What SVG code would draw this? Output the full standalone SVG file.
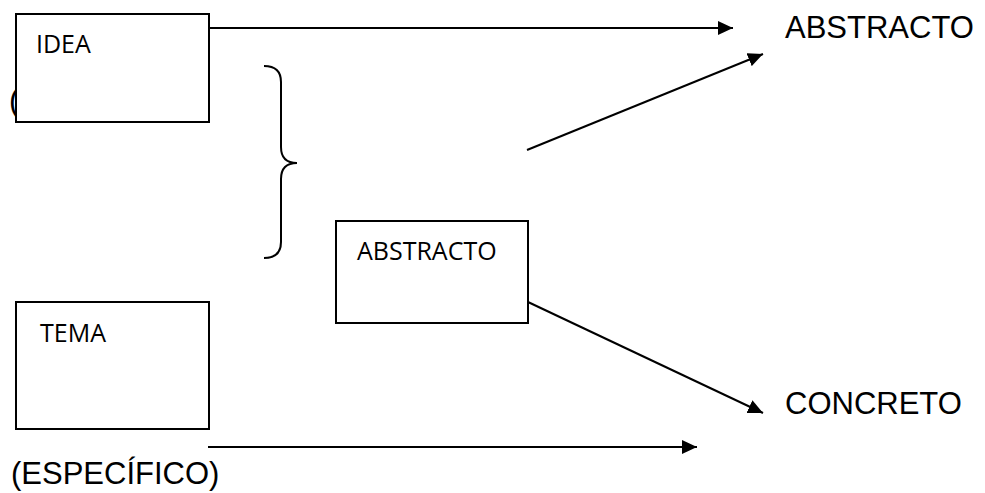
<svg xmlns="http://www.w3.org/2000/svg" width="985" height="493" viewBox="0 0 985 493">
<defs>
<style>
.box{fill:#fff;stroke:#000;stroke-width:2}
.lbl{font-family:"Open Sans",sans-serif;font-size:25px;fill:#000}
.big{font-family:"Liberation Sans",Arial,sans-serif;font-size:31px;fill:#000}
.conn{stroke:#000;stroke-width:2;fill:none}
</style>
<marker id="ah" markerUnits="userSpaceOnUse" markerWidth="16" markerHeight="14" refX="15" refY="7" orient="auto">
<path d="M0,0 L15,7 L0,14 z" fill="#000"/>
</marker>
</defs>
<rect width="985" height="493" fill="#fff"/>
<text class="big" x="9" y="111">(</text>
<g id="idea">
<rect class="box" x="16" y="14" width="193" height="108"/>
<text class="lbl" x="36" y="53">IDEA</text>
</g>
<g id="tema">
<rect class="box" x="16" y="302" width="193" height="127"/>
<text class="lbl" x="40" y="342">TEMA</text>
</g>
<g id="abstracto-box">
<rect class="box" x="336" y="221" width="192" height="102"/>
<text class="lbl" x="357" y="260">ABSTRACTO</text>
</g>
<g id="abstracto">
<text class="big" x="785" y="38">ABSTRACTO</text>
</g>
<g id="concreto">
<text class="big" x="785" y="414">CONCRETO</text>
</g>
<g id="especifico">
<text class="big" x="11" y="484">(ESPECÍFICO)</text>
</g>
<g id="brace">
<path class="conn" stroke-width="1.6" d="M264,66 C276,66 281,72 281,82 L281,147 C281,157 286,163 297,163 C286,163 281,169 281,179 L281,242 C281,252 276,258 264,258"/>
</g>
<g id="connectors">
<line class="conn" x1="209" y1="28" x2="733" y2="28" marker-end="url(#ah)"/>
<line class="conn" x1="527" y1="150" x2="763" y2="54" marker-end="url(#ah)"/>
<line class="conn" x1="528" y1="302" x2="763" y2="413" marker-end="url(#ah)"/>
<line class="conn" x1="208" y1="447" x2="697" y2="447" marker-end="url(#ah)"/>
</g>
</svg>
